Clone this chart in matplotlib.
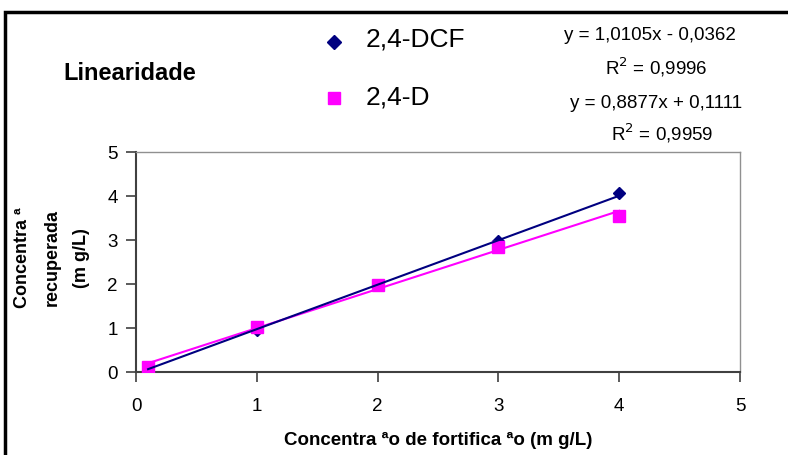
from matplotlib import pyplot as plt
from matplotlib.patches import Rectangle
from matplotlib.lines import Line2D
import numpy as np

plt.rcParams['font.family'] = ['Liberation Sans', 'DejaVu Sans']

# data
conc = [0.1, 1, 2, 3, 4]
dcf = [0.05, 0.95, 1.98, 2.98, 4.06]
d24 = [0.12, 1.02, 1.97, 2.83, 3.55]
# trendline coefficients as printed on the chart
dcf_fit = (1.0105, -0.0362)
d24_fit = (0.8877, 0.1111)
ticks = [0, 1, 2, 3, 4, 5]

navy = '#000080'
magenta = '#FF00FF'

fig = plt.figure(figsize=(7.88, 4.55), dpi=100)
ax = fig.add_axes([0.1726, 0.1824, 0.7665, 0.4835])

ax.plot(conc, dcf, linestyle='none', marker='D', markersize=6.5, color=navy, zorder=3)
ax.plot(conc, d24, linestyle='none', marker='s', markersize=9, color=magenta, zorder=4)

xs = np.array([conc[0], conc[-1]])
ax.plot(xs, d24_fit[0] * xs + d24_fit[1], color=magenta, lw=1.5, zorder=5)
ax.plot(xs, dcf_fit[0] * xs + dcf_fit[1], color=navy, lw=1.5, zorder=6)

ax.set_xlim(0, 5)
ax.set_ylim(0, 5)
ax.set_xticks(ticks)
ax.set_yticks(ticks)
ax.tick_params(direction='out', length=7, width=1.2, color='#404040', labelsize=13.5, pad=6)
ax.tick_params(axis='x', pad=12)
for s in ['top', 'right']:
    ax.spines[s].set_color('#909090')
    ax.spines[s].set_linewidth(1)
for s in ['left', 'bottom']:
    ax.spines[s].set_color('#404040')
    ax.spines[s].set_linewidth(1.5)

ax.set_xlabel('Concentra ªo de fortifica ªo (m g/L)', fontsize=13.5, fontweight='bold', labelpad=12)
fig.text(52 / 788, 1 - 258 / 455, 'Concentra ª\nrecuperada\n(m g/L)', rotation=90,
         ha='center', va='center', fontsize=13, fontweight='bold', linespacing=1.95,
         multialignment='center')

# title and legend
fig.text(63 / 788, 1 - 73 / 455, 'Linearidade', fontsize=17, fontweight='bold', va='center')
fig.add_artist(Line2D([334 / 788], [1 - 42 / 455], marker='D', markersize=7, color=navy,
                      transform=fig.transFigure))
fig.add_artist(Line2D([334 / 788], [1 - 98 / 455], marker='s', markersize=9, color=magenta,
                      transform=fig.transFigure))
fig.text(366 / 788, 1 - 40 / 455, '2,4-DCF', fontsize=19, va='center')
fig.text(366 / 788, 1 - 97 / 455, '2,4-D', fontsize=19, va='center')

# trendline equations
fig.text(650 / 788, 1 - 36 / 455, 'y = 1,0105x - 0,0362', fontsize=13.5, ha='center', va='center')
fig.text(656 / 788, 1 - 67 / 455, 'R$^2$ = 0,9996', fontsize=13.5, ha='center', va='center')
fig.text(656 / 788, 1 - 103 / 455, 'y = 0,8877x + 0,1111', fontsize=13.5, ha='center', va='center')
fig.text(662 / 788, 1 - 133 / 455, 'R$^2$ = 0,9959', fontsize=13.5, ha='center', va='center')

# outer chart border
fig.add_artist(Rectangle((5 / 788, -0.1), 1.2, 1.1 - 12 / 455, transform=fig.transFigure,
                         fill=False, edgecolor='black', lw=2.5))

fig.savefig('out.png', dpi=100)
